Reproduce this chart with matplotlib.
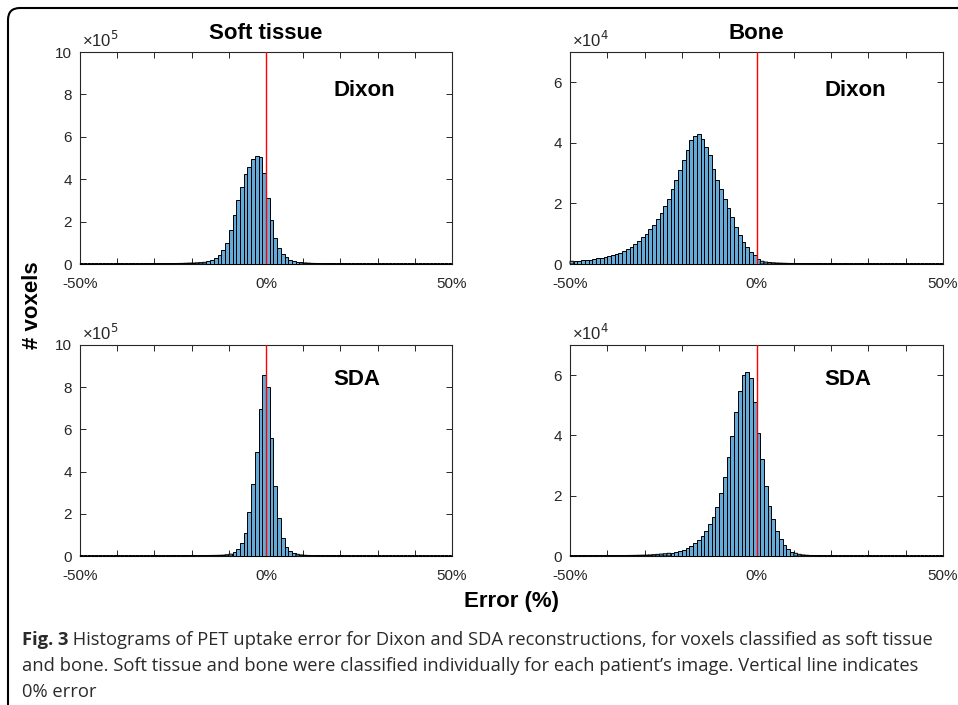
import numpy as np
import matplotlib
matplotlib.use("Agg")
import matplotlib.pyplot as plt
from matplotlib import font_manager
from matplotlib.patches import FancyBboxPatch
from matplotlib.transforms import IdentityTransform

# ---------------- data ----------------
bin_edges = list(range(-50, 51, 1))          # error (%) histogram edges, 1% bins

# Dixon, soft tissue (x 1e5 voxels), bins -50..49
dixon_soft = [
    0.002, 0.002, 0.002, 0.003, 0.003, 0.003, 0.003, 0.004, 0.004, 0.004,
    0.005, 0.005, 0.006, 0.006, 0.007, 0.007, 0.008, 0.009, 0.010, 0.011,
    0.012, 0.013, 0.015, 0.017, 0.019, 0.022, 0.026, 0.030, 0.036, 0.043,
    0.045, 0.055, 0.065, 0.080, 0.130, 0.200, 0.280, 0.420, 0.650, 1.000,
    1.600, 2.300, 3.000, 3.650, 4.230, 4.590, 4.940, 5.110, 5.050, 4.310,
    3.130, 2.080, 1.210, 0.740, 0.470, 0.310, 0.210, 0.150, 0.100, 0.070,
    0.050, 0.040, 0.030, 0.025, 0.020, 0.016, 0.013, 0.011, 0.009, 0.008,
    0.007, 0.006, 0.005, 0.005, 0.004, 0.004, 0.003, 0.003, 0.003, 0.002,
    0.002, 0.002, 0.002, 0.002, 0.002, 0.002, 0.002, 0.002, 0.002, 0.002,
    0.001, 0.001, 0.001, 0.001, 0.001, 0.001, 0.001, 0.001, 0.001, 0.001,
]

# Dixon, bone (x 1e4 voxels)
dixon_bone = [
    0.09, 0.10, 0.11, 0.12, 0.13, 0.14, 0.16, 0.19, 0.21, 0.23,
    0.25, 0.29, 0.33, 0.37, 0.43, 0.49, 0.57, 0.66, 0.77, 0.88,
    1.00, 1.14, 1.28, 1.47, 1.67, 1.91, 2.14, 2.46, 2.79, 3.11,
    3.44, 3.77, 4.08, 4.21, 4.30, 4.13, 3.86, 3.59, 3.15, 2.79,
    2.46, 2.14, 1.85, 1.56, 1.21, 0.95, 0.73, 0.55, 0.41, 0.30,
    0.15, 0.09, 0.065, 0.05, 0.04, 0.033, 0.028, 0.024, 0.020, 0.018,
    0.016, 0.014, 0.012, 0.011, 0.010, 0.009, 0.008, 0.007, 0.006, 0.006,
    0.005, 0.005, 0.005, 0.005, 0.005, 0.004, 0.004, 0.004, 0.004, 0.004,
    0.003, 0.003, 0.003, 0.003, 0.003, 0.003, 0.003, 0.003, 0.003, 0.003,
    0.002, 0.002, 0.002, 0.002, 0.002, 0.002, 0.002, 0.002, 0.002, 0.002,
]

# SDA, soft tissue (x 1e5 voxels)
sda_soft = [
    0.002, 0.002, 0.002, 0.002, 0.002, 0.002, 0.002, 0.002, 0.002, 0.002,
    0.003, 0.003, 0.003, 0.003, 0.003, 0.004, 0.004, 0.004, 0.004, 0.004,
    0.005, 0.005, 0.006, 0.006, 0.007, 0.008, 0.009, 0.010, 0.012, 0.014,
    0.016, 0.018, 0.020, 0.022, 0.025, 0.028, 0.030, 0.035, 0.040, 0.060,
    0.090, 0.170, 0.330, 0.600, 1.110, 2.100, 3.410, 4.940, 6.950, 8.580,
    7.990, 5.610, 3.330, 1.790, 0.870, 0.440, 0.240, 0.140, 0.080, 0.050,
    0.035, 0.027, 0.020, 0.016, 0.013, 0.011, 0.009, 0.008, 0.007, 0.006,
    0.005, 0.005, 0.004, 0.004, 0.004, 0.003, 0.003, 0.003, 0.003, 0.003,
    0.002, 0.002, 0.002, 0.002, 0.002, 0.002, 0.002, 0.002, 0.002, 0.002,
    0.001, 0.001, 0.001, 0.001, 0.001, 0.001, 0.001, 0.001, 0.001, 0.001,
]

# SDA, bone (x 1e4 voxels)
sda_bone = [
    0.005, 0.005, 0.006, 0.006, 0.007, 0.007, 0.008, 0.009, 0.010, 0.011,
    0.012, 0.013, 0.014, 0.015, 0.016, 0.018, 0.020, 0.022, 0.025, 0.028,
    0.030, 0.035, 0.045, 0.055, 0.065, 0.075, 0.090, 0.110, 0.130, 0.170,
    0.210, 0.270, 0.330, 0.420, 0.530, 0.660, 0.840, 1.050, 1.310, 1.640,
    2.080, 2.630, 3.300, 3.980, 4.770, 5.490, 6.010, 6.120, 5.900, 5.100,
    4.070, 3.210, 2.320, 1.670, 1.220, 0.840, 0.560, 0.370, 0.240, 0.140,
    0.090, 0.055, 0.035, 0.025, 0.018, 0.013, 0.010, 0.008, 0.006, 0.005,
    0.004, 0.004, 0.004, 0.003, 0.003, 0.003, 0.003, 0.003, 0.002, 0.002,
    0.002, 0.002, 0.002, 0.002, 0.002, 0.002, 0.002, 0.002, 0.002, 0.002,
    0.001, 0.001, 0.001, 0.001, 0.001, 0.001, 0.001, 0.001, 0.001, 0.001,
]

x_ticks = [-50, -40, -30, -20, -10, 0, 10, 20, 30, 40, 50]
x_tick_labels = ["-50%", "", "", "", "", "0%", "", "", "", "", "50%"]
soft_yticks = [0, 2, 4, 6, 8, 10]
bone_yticks = [0, 2, 4, 6]
col_titles = ["Soft tissue", "Bone"]
row_labels = ["Dixon", "SDA"]
exponents = ["5", "4"]

caption_bold = "Fig. 3"
caption_lines = [
    " Histograms of PET uptake error for Dixon and SDA reconstructions, for voxels classified as soft tissue",
    "and bone. Soft tissue and bone were classified individually for each patient\u2019s image. Vertical line indicates",
    "0% error",
]

# ---------------- style ----------------
plt.rcParams["font.family"] = ["Liberation Sans", "DejaVu Sans"]
W, H = 958, 705
fig = plt.figure(figsize=(W / 100, H / 100), dpi=100)

axcol = (0.15, 0.15, 0.15)
barface = (0.40, 0.668, 0.845)

def px_rect(x0, y_top, x1, y_bot):
    return [x0 / W, 1 - y_bot / H, (x1 - x0) / W, (y_bot - y_top) / H]

rects = {
    (0, 0): px_rect(80, 52, 452, 264),
    (0, 1): px_rect(570, 52, 943, 264),
    (1, 0): px_rect(80, 345, 452, 556),
    (1, 1): px_rect(570, 345, 943, 556),
}
series = {(0, 0): dixon_soft, (0, 1): dixon_bone, (1, 0): sda_soft, (1, 1): sda_bone}
label_y = {0: 0.82, 1: 0.838}

for (r, c), rect in rects.items():
    ax = fig.add_axes(rect)
    vals = series[(r, c)]
    bars = ax.bar(bin_edges[:-1], vals, width=1.0, align="edge", color=barface,
                  edgecolor="black", linewidth=0.7, zorder=2.6)
    for b, v in zip(bars, vals):
        b.set_clip_on(False)
        if v < 0.1:
            b.set_snap(False)
    ax.axvline(0, color="red", lw=1.0, zorder=3)
    ax.set_xlim(-50, 50)
    if c == 0:
        ax.set_ylim(0, 10)
        ax.set_yticks(soft_yticks)
    else:
        ax.set_ylim(0, 7)
        ax.set_yticks(bone_yticks)
    ax.set_xticks(x_ticks)
    ax.set_xticklabels(x_tick_labels)
    ax.tick_params(direction="in", length=4, width=0.7, color=axcol,
                   labelcolor=axcol, labelsize=11, top=True, right=True)
    ax.tick_params(axis="x", pad=9)
    ax.tick_params(axis="y", pad=6)
    for s in ax.spines.values():
        s.set_color(axcol)
        s.set_linewidth(0.8)
    ax.text(0.005, 1.008, "\u00d710$^{" + exponents[c] + "}$", transform=ax.transAxes,
            ha="left", va="bottom", fontsize=12, color=axcol)
    ax.text(0.682, label_y[r], row_labels[r], transform=ax.transAxes, ha="left",
            va="center", fontsize=16, fontweight="bold", color="black")
    if r == 0:
        ax.text(0.5, 1.085, col_titles[c], transform=ax.transAxes, ha="center",
                va="center", fontsize=16, fontweight="bold", color="black")

fig.text(33 / W, 1 - 305 / H, "# voxels", rotation=90, ha="center", va="center",
         fontsize=16, fontweight="bold", color="black")
fig.text(512 / W, 1 - 601 / H, "Error (%)", ha="center", va="center",
         fontsize=16, fontweight="bold", color="black")

# ---------------- caption ----------------
def pick(fams):
    for f in fams:
        try:
            font_manager.findfont(font_manager.FontProperties(family=f),
                                  fallback_to_default=False)
            return f
        except Exception:
            pass
    return "DejaVu Sans"

cap_font = pick(["Liberation Sans Narrow", "Open Sans", "Noto Sans"])
cap_col = "#2a2a2a"
baselines = [645, 671, 697]
cx = 22
fs0 = 14
tb = fig.text(cx / W, 1 - baselines[0] / H, caption_bold, ha="left", va="baseline",
              fontsize=fs0, fontweight="bold", family=[cap_font, "DejaVu Sans"], color=cap_col)
t1 = fig.text(0, 0, caption_lines[0], ha="left", va="baseline", fontsize=fs0,
              family=[cap_font, "DejaVu Sans"], color=cap_col)
t2 = fig.text(cx / W, 1 - baselines[1] / H, caption_lines[1], ha="left", va="baseline",
              fontsize=fs0, family=[cap_font, "DejaVu Sans"], color=cap_col)
t3 = fig.text(cx / W, 1 - baselines[2] / H, caption_lines[2], ha="left", va="baseline",
              fontsize=fs0, family=[cap_font, "DejaVu Sans"], color=cap_col)

fig.canvas.draw()
rend = fig.canvas.get_renderer()
w_total = tb.get_window_extent(rend).width + t1.get_window_extent(rend).width
scale = 916.0 / w_total
fs = fs0 * scale
for t in (tb, t1, t2, t3):
    t.set_fontsize(fs)
fig.canvas.draw()
wb = tb.get_window_extent(rend).width
t1.set_position(((cx + wb) / W, 1 - baselines[0] / H))

# ---------------- frame ----------------
frame = FancyBboxPatch((8, -40), 2000, H - 8 + 40,
                       boxstyle="round,pad=0,rounding_size=12",
                       transform=IdentityTransform(), fill=False,
                       edgecolor="black", linewidth=1.5)
fig.add_artist(frame)

fig.savefig("out.png", dpi=100)
